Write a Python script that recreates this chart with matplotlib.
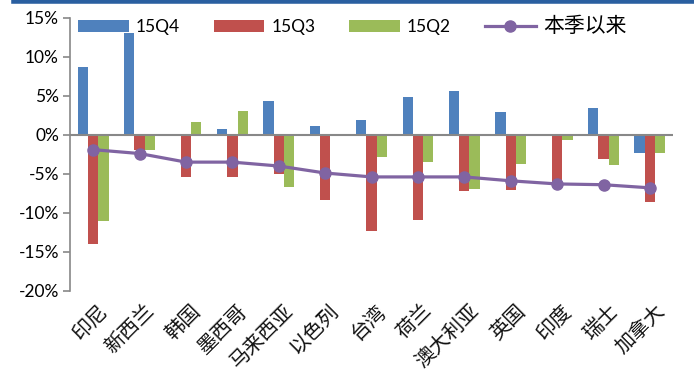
import matplotlib
matplotlib.use("Agg")
import matplotlib.pyplot as plt
import matplotlib.transforms as mtransforms
import numpy as np
from matplotlib.lines import Line2D

plt.rcParams['font.family'] = ['Lato', 'Noto Sans CJK SC', 'DejaVu Sans']

categories = ['印尼', '新西兰', '韩国', '墨西哥', '马来西亚', '以色列', '台湾', '荷兰',
              '澳大利亚', '英国', '印度', '瑞士', '加拿大']
q4 = [8.7, 13.1, 0.0, 0.8, 4.4, 1.1, 1.9, 4.8, 5.6, 2.9, -0.1, 3.5, -2.3]
q3 = [-14.0, -2.0, -5.4, -5.4, -5.0, -8.4, -12.3, -10.9, -7.2, -7.1, -6.3, -3.1, -8.6]
q2 = [-11.1, -1.9, 1.6, 3.0, -6.7, 0.0, -2.8, -3.5, -7.0, -3.8, -0.6, -3.9, -2.3]
since = [-1.9, -2.4, -3.5, -3.5, -4.0, -4.9, -5.4, -5.4, -5.4, -5.9, -6.3, -6.4, -6.8]
yticks = [15, 10, 5, 0, -5, -10, -15, -20]

c_blue, c_red, c_green, c_purple = '#4f81bd', '#c0504d', '#9bbb59', '#8064a2'

fig = plt.figure(figsize=(6.94, 3.76), dpi=100)
ax = fig.add_axes([0.1009, 0.2269, 0.869, 0.7253])

x = np.arange(len(categories))
w = 0.222
b1 = ax.bar(x - w, q4, w, color=c_blue, label='15Q4', zorder=2)
b2 = ax.bar(x, q3, w, color=c_red, label='15Q3', zorder=2)
b3 = ax.bar(x + w, q2, w, color=c_green, label='15Q2', zorder=2)
ln, = ax.plot(x, since, color=c_purple, lw=2.3, marker='o', ms=8, label='本季以来', zorder=4)

ax.set_xlim(-0.5, len(categories) - 0.5)
ax.set_ylim(-20, 15)
ax.set_yticks(yticks)
ax.set_yticklabels([f'{v}%' for v in yticks], fontsize=12.5)
ax.axhline(0, color='#888888', lw=1.5, zorder=3)

for s in ['top', 'right', 'bottom']:
    ax.spines[s].set_visible(False)
ax.spines['left'].set_color('#888888')
ax.spines['left'].set_linewidth(1.2)
ax.tick_params(axis='y', direction='out', length=5, color='#888888', width=1.2, pad=3)
ax.tick_params(axis='x', length=0, pad=7)
ax.set_xticks(x)
ax.set_xticklabels(categories, rotation=45, ha='right', rotation_mode='anchor',
                   fontsize=14.5, color='#111111',
                   family=['Noto Sans CJK SC', 'DejaVu Sans'])
offset = mtransforms.ScaledTranslation(3 / 72, 0, fig.dpi_scale_trans)
for lbl in ax.get_xticklabels():
    lbl.set_transform(lbl.get_transform() + offset)

leg = fig.legend([b1, b2, b3, ln], ['15Q4', '15Q3', '15Q2', '本季以来'],
                 loc='center left', bbox_to_anchor=(0.112, 0.931),
                 ncol=4, frameon=False, handlelength=2.93, handleheight=0.75,
                 handletextpad=0.4, columnspacing=1.95, borderaxespad=0, borderpad=0,
                 prop={'family': ['Lato', 'Noto Sans CJK SC'], 'size': 12.5})
leg.get_texts()[3].set_fontsize(15)

fig.add_artist(Line2D([0.02, 1.0], [0.997, 0.997], transform=fig.transFigure,
                      color='#2a5fa0', lw=4))

fig.savefig('out.png', dpi=100)
